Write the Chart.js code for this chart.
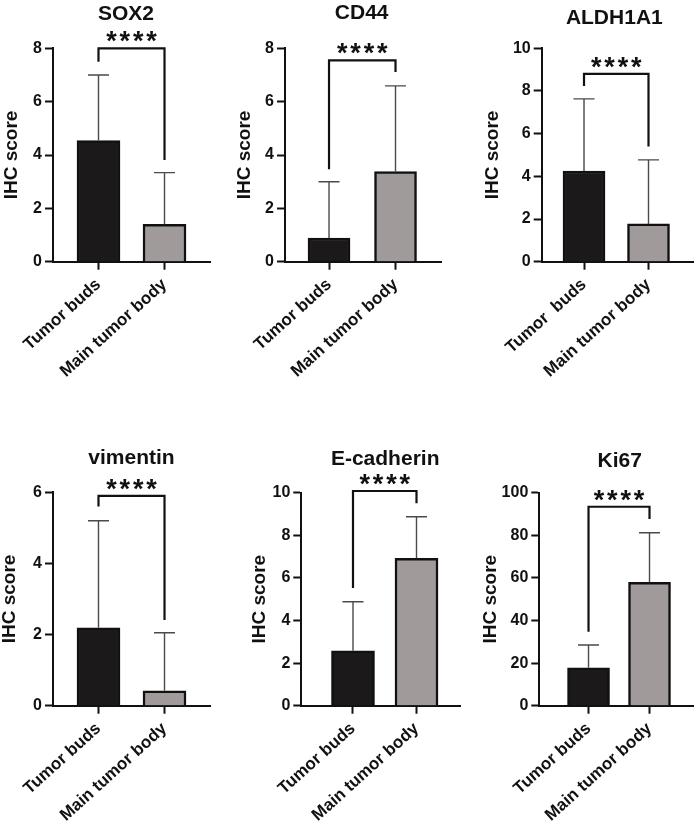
<!DOCTYPE html>
<html><head><meta charset="utf-8">
<script src="https://cdn.jsdelivr.net/npm/chart.js@4.4.1/dist/chart.umd.min.js"></script>
<style>
html,body{margin:0;padding:0;background:#fff;width:698px;height:827px;overflow:hidden;}
canvas{position:absolute;}
</style></head><body>
<canvas id="c1"></canvas><canvas id="c2"></canvas><canvas id="c3"></canvas>
<canvas id="c4"></canvas><canvas id="c5"></canvas><canvas id="c6"></canvas>
<script>
// ---------- data ----------
const categories = ['Tumor buds', 'Main tumor body'];
const categoriesAldh = ['Tumor  buds', 'Main tumor body'];
const markers = ['SOX2', 'CD44', 'ALDH1A1', 'vimentin', 'E-cadherin', 'Ki67'];
const yAxisTitle = 'IHC score';
const significance = '****';

const sox2Mean = [4.54, 1.40];
const sox2SD   = [2.46, 1.94];
const cd44Mean = [0.89, 3.38];
const cd44SD   = [2.11, 3.21];
const aldhMean = [4.25, 1.77];
const aldhSD   = [3.38, 3.00];
const vimMean  = [2.19, 0.42];
const vimSD    = [3.01, 1.63];
const ecadMean = [2.58, 6.92];
const ecadSD   = [2.30, 1.95];
const ki67Mean = [17.8, 57.9];
const ki67SD   = [10.7, 23.3];

const yMaxes = [8, 8, 10, 6, 10, 100];
const ySteps = [2, 2, 2, 2, 2, 20];

// significance bracket in value units: [top, left leg end, right leg end]
const sox2Bracket = [8.0, 7.5, 3.81];
const cd44Bracket = [7.55, 3.47, 7.11];
const aldhBracket = [8.8, 8.23, 5.4];
const vimBracket  = [5.9, 5.6, 2.41];
const ecadBracket = [10.08, 5.52, 9.5];
const ki67Bracket = [93.4, 34.7, 87.6];

// ---------- layout (pixels) ----------
const panels = [
  {id:'c1', left:0,   top:0,   w:233, h:420, axisX:53,    cTop:48.3,  cBot:261.7, right:210, xMin:0.311, xMax:2.689, bar:43, tX:126,   tY:14,    yTitleX:12,
   mean:sox2Mean, sd:sox2SD, br:sox2Bracket, cats:categories, k:0},
  {id:'c2', left:233, top:0,   w:233, h:420, axisX:285,   cTop:48.3,  cBot:261.7, right:441, xMin:0.338, xMax:2.684, bar:42, tX:361.7, tY:13.5,  yTitleX:245,
   mean:cd44Mean, sd:cd44SD, br:cd44Bracket, cats:categories, k:1},
  {id:'c3', left:466, top:0,   w:232, h:420, axisX:541.7, cTop:48.3,  cBot:261.7, right:693, xMin:0.344, xMax:2.690, bar:42, tX:614.3, tY:18.7,  yTitleX:492.7,
   mean:aldhMean, sd:aldhSD, br:aldhBracket, cats:categoriesAldh, k:2},
  {id:'c4', left:0,   top:420, w:233, h:407, axisX:53,    cTop:492.3, cBot:705.7, right:210, xMin:0.311, xMax:2.689, bar:43, tX:131.5, tY:458.6, yTitleX:10,
   mean:vimMean, sd:vimSD, br:vimBracket, cats:categories, k:3},
  {id:'c5', left:233, top:420, w:233, h:407, axisX:301.3, cTop:492.7, cBot:705.7, right:460, xMin:0.186, xMax:2.685, bar:43, tX:385.2, tY:458.8, yTitleX:259.7,
   mean:ecadMean, sd:ecadSD, br:ecadBracket, cats:categories, k:4},
  {id:'c6', left:466, top:420, w:232, h:407, axisX:539.3, cTop:492.7, cBot:705.7, right:693, xMin:0.193, xMax:2.713, bar:42, tX:619.8, tY:460.8, yTitleX:490.3,
   mean:ki67Mean, sd:ki67SD, br:ki67Bracket, cats:categories, k:5}
];

const FONT = '"Liberation Sans", Arial, Helvetica, sans-serif';
Chart.defaults.font.family = FONT;
Chart.defaults.color = '#111';

const INK = '#111111';
const BAR_FILLS = ['#1b1919', '#a09a9a'];
const ERR_COLOR = '#4a4a4a';
const Y_TITLE_SIZE = 19;

panels.forEach(p => {
  const cv = document.getElementById(p.id);
  cv.width = p.w; cv.height = p.h;
  cv.style.left = p.left + 'px'; cv.style.top = p.top + 'px';

  const overlay = {
    id: 'overlay' + p.k,
    afterDraw(chart) {
      const ctx = chart.ctx, xs = chart.scales.x, ys = chart.scales.y;
      ctx.save();
      // error bars (upward SD)
      ctx.strokeStyle = ERR_COLOR; ctx.lineWidth = 1.4;
      p.mean.forEach((m, i) => {
        const x = xs.getPixelForValue(i + 1);
        const y0 = ys.getPixelForValue(m);
        const y1 = ys.getPixelForValue(m + p.sd[i]);
        ctx.beginPath();
        ctx.moveTo(x, y0); ctx.lineTo(x, y1);
        ctx.moveTo(x - 10.5, y1); ctx.lineTo(x + 10.5, y1);
        ctx.stroke();
      });
      // significance bracket
      const x1 = xs.getPixelForValue(1), x2 = xs.getPixelForValue(2);
      const yt = ys.getPixelForValue(p.br[0]);
      ctx.strokeStyle = INK; ctx.lineWidth = 2.2; ctx.lineJoin = 'miter';
      ctx.beginPath();
      ctx.moveTo(x1, ys.getPixelForValue(p.br[1]));
      ctx.lineTo(x1, yt); ctx.lineTo(x2, yt);
      ctx.lineTo(x2, ys.getPixelForValue(p.br[2]));
      ctx.stroke();
      // stars
      ctx.fillStyle = INK;
      ctx.font = 'bold 27px ' + FONT;
      const ls = 2.8;
      if ('letterSpacing' in ctx) ctx.letterSpacing = ls + 'px';
      ctx.textAlign = 'center'; ctx.textBaseline = 'alphabetic';
      ctx.fillText(significance, (x1 + x2) / 2 + ls / 2, yt - 13.5 + 15.5);
      if ('letterSpacing' in ctx) ctx.letterSpacing = '0px';
      // panel title
      ctx.font = 'bold 21px ' + FONT;
      ctx.textBaseline = 'middle';
      ctx.fillText(markers[p.k], p.tX - p.left, p.tY - p.top);
      ctx.restore();
    }
  };

  new Chart(cv, {
    type: 'bar',
    data: {
      datasets: [{
        data: p.mean.map((v, i) => ({x: i + 1, y: v})),
        backgroundColor: BAR_FILLS,
        borderColor: INK,
        borderWidth: 2.5,
        borderSkipped: 'start',
        barThickness: p.bar
      }]
    },
    options: {
      responsive: false,
      animation: false,
      events: [],
      layout: {padding: {top: p.cTop - p.top, right: p.left + p.w - p.right, bottom: 0, left: 0}},
      plugins: {legend: {display: false}, tooltip: {enabled: false}, title: {display: false}},
      scales: {
        x: {
          type: 'linear', min: p.xMin, max: p.xMax, offset: false,
          afterBuildTicks: s => { s.ticks = [{value: 1}, {value: 2}]; },
          afterFit: s => { s.height = p.top + p.h - p.cBot; },
          ticks: {autoSkip: false, minRotation: 42, maxRotation: 42, padding: 5, color: INK,
                  font: {size: 17, weight: 'bold'}, callback: (v, i) => p.cats[i]},
          grid: {display: true, offset: false, drawOnChartArea: false, drawTicks: true, tickLength: 8, tickWidth: 2, tickColor: INK},
          border: {display: true, color: INK, width: 2}
        },
        y: {
          min: 0, max: yMaxes[p.k],
          afterFit: s => { s.width = p.axisX - p.left; },
          ticks: {stepSize: ySteps[p.k], padding: 3, color: INK, font: {size: 16, weight: 'bold'}},
          grid: {display: true, offset: false, drawOnChartArea: false, drawTicks: true, tickLength: 8, tickWidth: 2, tickColor: INK},
          border: {display: true, color: INK, width: 2},
          title: {display: true, text: yAxisTitle, color: INK, font: {size: Y_TITLE_SIZE, weight: 'bold'},
                  padding: {top: (p.yTitleX - p.left) - Y_TITLE_SIZE * 1.2 / 2, bottom: 0}}
        }
      }
    },
    plugins: [overlay]
  });
});
</script>
</body></html>
